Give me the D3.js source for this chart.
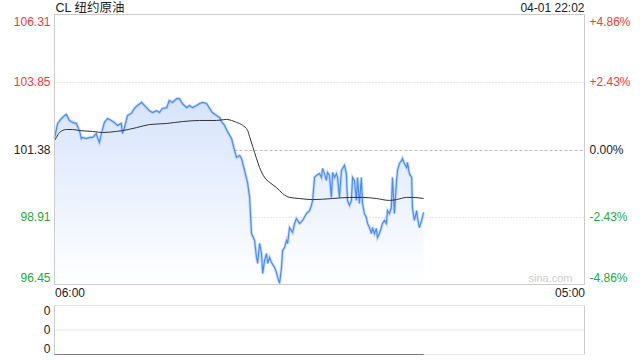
<!DOCTYPE html>
<html>
<head>
<meta charset="utf-8">
<script src="https://cdn.jsdelivr.net/npm/d3@7"></script>
<style>
  body { margin: 0; background: #fff; }
  text { font-family: Arial, "Liberation Sans", "Noto Sans CJK SC", sans-serif; }
</style>
</head>
<body>
<div id="chart"></div>
<script>
// minutes after 06:00 and last price
const priceMin = [0, 8, 18, 26, 31, 39, 47, 57, 65, 70, 73, 83, 91, 99, 109, 112, 117, 122, 130, 138,
  148, 156, 164, 174, 177, 182, 190, 200, 208, 216, 227, 234, 242, 247, 255, 266, 273, 281, 292, 299,
  307, 318, 325, 333, 344, 352, 359, 370, 378, 385, 396, 404, 411, 422, 430, 435, 443, 450, 461, 469,
  474, 482, 487, 495, 503, 508, 513, 521, 526, 529, 534, 539, 542, 547, 552, 555, 560, 565, 573, 578,
  581, 586, 591, 594, 599, 604, 607, 612, 620, 625, 630, 638, 646, 656, 664, 669, 672, 677, 682, 690,
  695, 698, 703, 708, 711, 716, 721, 724, 729, 734, 737, 742, 747, 750, 755, 760, 763, 768, 773, 776,
  781, 786, 789, 794, 799, 802, 807, 812, 815, 820, 825, 828, 833, 838, 841, 846, 851, 854, 859, 864,
  867, 872, 877, 880, 885, 890, 893, 898, 904, 906, 911, 917, 919, 924, 930, 932, 937, 943, 945, 950,
  956, 961];
const price = [101.78, 102.33, 102.51, 102.62, 102.66, 102.44, 102.37, 102.33, 102.07, 101.78, 101.82, 101.78, 101.82, 101.82, 101.96, 101.82, 101.64, 101.96, 102.37, 102.51,
  102.44, 102.37, 102.26, 102.33, 101.96, 102.18, 102.62, 102.70, 102.88, 102.99, 103.10, 102.99, 102.88, 102.80, 102.73, 102.80, 102.73, 102.88, 102.91, 103.17,
  103.10, 103.24, 103.24, 103.06, 102.91, 102.99, 102.91, 102.99, 103.06, 103.10, 103.06, 102.88, 102.73, 102.62, 102.55, 102.40, 102.26, 102.04, 101.78, 101.34,
  101.09, 101.16, 101.05, 100.61, 100.14, 99.63, 98.31, 98.06, 97.44, 97.22, 97.95, 97.58, 96.85, 97.33, 97.58, 97.22, 97.44, 97.25, 97.07, 96.89,
  96.71, 96.49, 97.07, 97.69, 97.80, 98.06, 97.95, 98.53, 98.35, 98.68, 98.86, 98.68, 98.79, 99.04, 99.15, 99.34, 99.52, 100.36, 100.43, 100.50,
  100.36, 100.69, 100.50, 100.25, 100.54, 100.43, 99.63, 100.54, 100.36, 100.50, 100.36, 99.63, 100.61, 100.69, 100.80, 100.50, 99.52, 99.34, 99.52, 100.36,
  100.25, 99.52, 100.36, 99.41, 100.36, 99.41, 99.04, 98.90, 98.68, 98.53, 98.31, 98.53, 98.31, 98.50, 98.17, 98.31, 98.53, 98.68, 98.79, 98.68,
  99.15, 99.04, 99.26, 100.36, 99.04, 100.14, 100.61, 100.87, 100.98, 101.05, 100.87, 100.72, 100.91, 100.50, 100.36, 99.26, 98.79, 99.15, 98.90, 98.53,
  98.79, 99.08];

// average price line
const avgMin = [0, 5, 13, 31, 47, 65, 99, 125, 161, 177, 214, 247, 292, 333, 378, 422, 448, 461, 474, 490,
  503, 508, 516, 526, 534, 547, 560, 578, 594, 612, 638, 672, 724, 768, 802, 838, 872, 890, 917, 932, 961];
const avg = [101.71, 101.82, 102.00, 102.11, 102.11, 102.07, 102.04, 102.00, 102.04, 102.07, 102.18, 102.29, 102.33, 102.40, 102.44, 102.44, 102.48, 102.44, 102.37, 102.26,
  102.07, 101.85, 101.49, 101.05, 100.72, 100.36, 100.18, 99.99, 99.77, 99.63, 99.59, 99.55, 99.59, 99.63, 99.63, 99.59, 99.52, 99.55, 99.63, 99.63, 99.59];

// volume (all zero)
const volMin = [0, 961];
const vol = [0, 0];

const priceTicks = [106.31, 103.85, 101.38, 98.91, 96.45];
const pctTicks = ["+4.86%", "+2.43%", "0.00%", "-2.43%", "-4.86%"];
const volTicks = ["0", "0", "0"];
const timeTicks = ["06:00", "05:00"];
const title = "CL 纽约原油";
const stamp = "04-01 22:02";

const width = 640, height = 360;
const m = { left: 54.5, right: 584.5, top: 14.5, bottom: 284.5, vTop: 305.5, vBottom: 354.5 };

const red = "#f03c3c", green = "#24a83a", dark = "#222";
const tickColor = i => i < 2 ? red : (i === 2 ? dark : green);

const svg = d3.select("#chart").append("svg")
  .attr("width", width).attr("height", height);

const x = d3.scaleLinear().domain([0, 1380]).range([m.left, m.right]);
const y = d3.scaleLinear().domain([96.45, 106.31]).range([m.bottom, m.top]);

// gradient for area
const grad = svg.append("defs").append("linearGradient")
  .attr("id", "fillGrad").attr("gradientUnits", "userSpaceOnUse")
  .attr("x1", 0).attr("x2", 0).attr("y1", 95).attr("y2", m.bottom);
grad.append("stop").attr("offset", "0%").attr("stop-color", "#d5e3fb");
grad.append("stop").attr("offset", "100%").attr("stop-color", "#ffffff");

// gridlines
priceTicks.slice(1, 4).forEach((v, i) => {
  svg.append("line")
    .attr("x1", m.left).attr("x2", m.right)
    .attr("y1", Math.round(y(v)) + 0.5).attr("y2", Math.round(y(v)) + 0.5)
    .attr("stroke", i === 1 ? "#bbb" : "#ccc")
    .attr("stroke-dasharray", i === 1 ? "3,2" : "1,2");
});

const pts = priceMin.map((t, i) => [t, price[i]]);

svg.append("path")
  .datum(pts)
  .attr("fill", "url(#fillGrad)")
  .attr("d", d3.area().x(d => x(d[0])).y0(m.bottom).y1(d => y(d[1])));

svg.append("path")
  .datum(pts)
  .attr("fill", "none").attr("stroke", "#8fb6f8").attr("stroke-width", 3).attr("opacity", 0.45)
  .attr("d", d3.line().x(d => x(d[0])).y(d => y(d[1])));

svg.append("path")
  .datum(pts)
  .attr("fill", "none").attr("stroke", "#4a8cf5").attr("stroke-width", 1.2)
  .attr("d", d3.line().x(d => x(d[0])).y(d => y(d[1])));

svg.append("path")
  .datum(avgMin.map((t, i) => [t, avg[i]]))
  .attr("fill", "none").attr("stroke", "#333").attr("stroke-width", 1)
  .attr("d", d3.line().curve(d3.curveMonotoneX).x(d => x(d[0])).y(d => y(d[1])));

// frame
svg.append("rect")
  .attr("x", m.left).attr("y", m.top).attr("width", m.right - m.left).attr("height", m.bottom - m.top)
  .attr("fill", "none").attr("stroke", "#ccc");

// left price axis
const yAxisL = svg.append("g")
  .attr("transform", `translate(${m.left},0)`)
  .call(d3.axisLeft(y).tickValues(priceTicks).tickFormat(d3.format(".2f")).tickSize(0).tickPadding(4));
yAxisL.select(".domain").remove();
yAxisL.selectAll("text")
  .style("font-size", "12px")
  .attr("fill", (d, i) => tickColor(i))
  .attr("dy", (d, i) => i === 0 ? "0.95em" : (i === 4 ? "-0.25em" : "0.32em"));

// right percent axis
const yAxisR = svg.append("g")
  .attr("transform", `translate(${m.right},0)`)
  .call(d3.axisRight(y).tickValues(priceTicks).tickFormat((d, i) => pctTicks[i]).tickSize(0).tickPadding(5));
yAxisR.select(".domain").remove();
yAxisR.selectAll("text")
  .style("font-size", "12px")
  .attr("fill", (d, i) => tickColor(i))
  .attr("dy", (d, i) => i === 0 ? "0.95em" : (i === 4 ? "-0.25em" : "0.32em"));

// time labels
const xAxis = svg.append("g")
  .attr("transform", `translate(0,${m.bottom})`)
  .call(d3.axisBottom(x).tickValues([0, 1380]).tickFormat((d, i) => timeTicks[i]).tickSize(0).tickPadding(4));
xAxis.select(".domain").remove();
xAxis.selectAll("text")
  .style("font-size", "12px").attr("fill", dark)
  .attr("text-anchor", (d, i) => i === 0 ? "start" : "end");

// title and time stamp
svg.append("text").attr("x", m.left + 1).attr("y", 12)
  .style("font-size", "12.5px").attr("fill", dark).text(title);
svg.append("text").attr("x", m.right).attr("y", 12).attr("text-anchor", "end")
  .style("font-size", "12px").attr("fill", dark).text(stamp);

// watermark
svg.append("text").attr("x", m.right - 12).attr("y", m.bottom - 3).attr("text-anchor", "end")
  .style("font-size", "11px").attr("fill", "#d0d0d0").text("sina.com");

// volume panel
const yv = d3.scaleLinear().domain([0, 2]).range([m.vBottom, m.vTop]);
[2, 1, 0].forEach(v => {
  svg.append("line")
    .attr("x1", m.left).attr("x2", m.right).attr("y1", yv(v)).attr("y2", yv(v))
    .attr("stroke", "#ccc").attr("stroke-dasharray", "1,1");
});
[m.left, m.right].forEach(xx => {
  svg.append("line").attr("x1", xx).attr("x2", xx).attr("y1", m.vTop).attr("y2", m.vBottom)
    .attr("stroke", "#ccc");
});
svg.append("path")
  .datum(volMin.map((t, i) => [t, vol[i]]))
  .attr("fill", "none").attr("stroke", "#777").attr("stroke-width", 1)
  .attr("d", d3.line().x(d => x(d[0])).y(d => yv(d[1])));

const volAxis = svg.append("g")
  .attr("transform", `translate(${m.left},0)`)
  .call(d3.axisLeft(yv).tickValues([2, 1, 0]).tickFormat((d, i) => volTicks[i]).tickSize(0).tickPadding(4));
volAxis.select(".domain").remove();
volAxis.selectAll("text")
  .style("font-size", "12px").attr("fill", dark)
  .attr("dy", (d, i) => i === 0 ? "0.75em" : (i === 2 ? "-0.15em" : "0.32em"));
</script>
</body>
</html>
